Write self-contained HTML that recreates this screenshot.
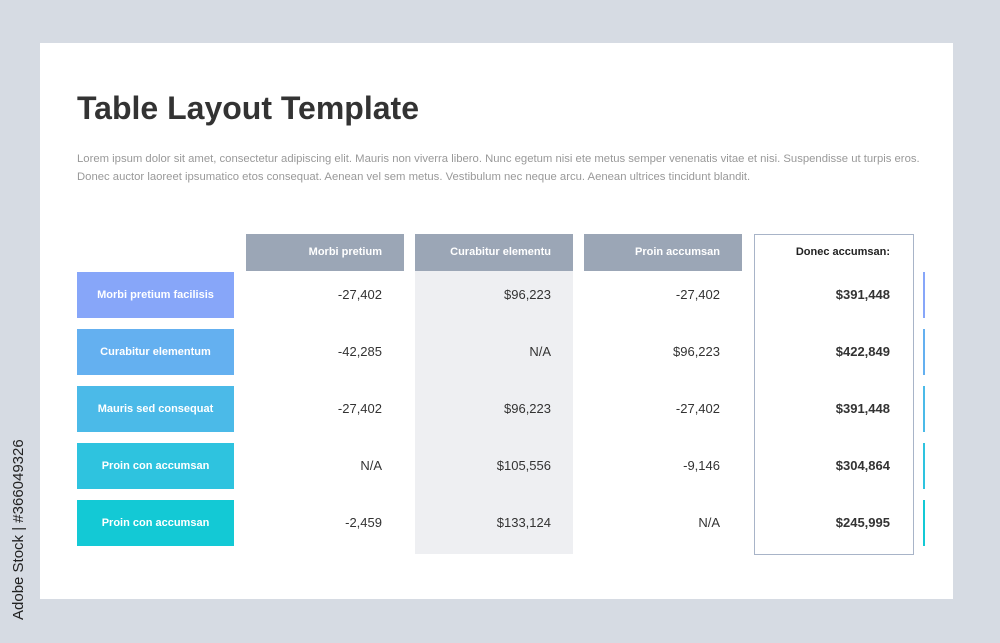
<!DOCTYPE html>
<html><head><meta charset="utf-8"><style>
body{margin:0;width:1000px;height:643px;background:#d6dbe3;font-family:"Liberation Sans",sans-serif;position:relative;overflow:hidden}
.a{position:absolute}
.card{left:40px;top:43px;width:913px;height:556px;background:#fff}
.hd{top:234px;height:37px;width:158px;background:#9ba6b6;color:#fff;font-weight:bold;font-size:11px;line-height:37px;text-align:right;box-sizing:border-box;padding-right:22px}
.lb{left:77px;width:157px;height:46px;color:#fff;font-weight:bold;font-size:11px;line-height:46px;text-align:center}
.v{width:158px;height:46px;line-height:46px;text-align:right;box-sizing:border-box;padding-right:22px;font-size:13px;color:#333}
.t{font-weight:bold;font-size:13px}
.bar{left:923px;width:2px;height:46px}
</style></head><body>
<div class="a card"></div>
<div class="a" style="left:4px;top:400px;width:30px;height:220px"><div style="transform:rotate(-90deg);transform-origin:left top;position:absolute;left:6px;top:220px;white-space:nowrap;font-size:15px;color:#222">Adobe Stock | #366049326</div></div>
<div class="a" style="left:77px;top:90px;font-size:32px;font-weight:bold;color:#333">Table Layout Template</div>
<div class="a" style="left:77px;top:150px;width:850px;font-size:11.3px;line-height:18px;color:#999">Lorem ipsum dolor sit amet, consectetur adipiscing elit. Mauris non viverra libero. Nunc egetum nisi ete metus semper venenatis vitae et nisi. Suspendisse ut turpis eros. Donec auctor laoreet ipsumatico etos consequat. Aenean vel sem metus. Vestibulum nec neque arcu. Aenean ultrices tincidunt blandit.</div>
<div class="a" style="left:415px;top:271px;width:158px;height:283px;background:#eeeff2"></div>
<div class="a" style="left:754px;top:234px;width:158px;height:319px;border:1.5px solid #a8b4c8"></div>
<div class="a hd" style="left:246px">Morbi pretium</div>
<div class="a hd" style="left:415px">Curabitur elementu</div>
<div class="a hd" style="left:584px">Proin accumsan</div>
<div class="a hd" style="left:754px;background:none;color:#222">Donec accumsan:</div>
<div id="rows"></div>
<script>
const labels=["Morbi pretium facilisis","Curabitur elementum","Mauris sed consequat","Proin con accumsan","Proin con accumsan"];
const col1=["-27,402","-42,285","-27,402","N/A","-2,459"];
const col2=["$96,223","N/A","$96,223","$105,556","$133,124"];
const col3=["-27,402","$96,223","-27,402","-9,146","N/A"];
const totals=["$391,448","$422,849","$391,448","$304,864","$245,995"];
const colors=["#87a6f9","#64b0f0","#4bbae8","#2ec3df","#13c9d5"];
const root=document.getElementById('rows');
function mk(cls,left,top,txt,st){const d=document.createElement('div');d.className='a '+cls;d.style.left=left+'px';d.style.top=top+'px';if(st)d.style.cssText+=st;d.textContent=txt;root.appendChild(d);return d;}
labels.forEach((l,i)=>{const y=272+i*57;
const a=mk('lb',77,y,l,'background:'+colors[i]);


const b=mk('v',246,y,col1[i]);


const c=mk('v',415,y,col2[i]);


const e=mk('v',584,y,col3[i]);


const f=mk('v t',754,y,totals[i]);


const g=mk('bar',923,y,'','background:'+colors[i]);


});
</script>
</body></html>
